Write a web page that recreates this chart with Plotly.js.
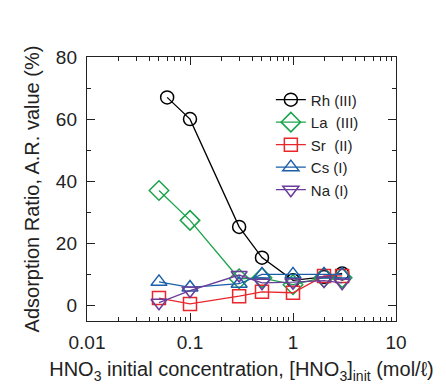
<!DOCTYPE html>
<html><head><meta charset="utf-8">
<script src="https://cdn.plot.ly/plotly-3.0.1.min.js"></script>
<style>html,body{margin:0;padding:0;background:#fff}</style>
</head><body>
<div id="chart" style="width:446px;height:392px"></div>
<script>
const names = ["Rh (III)", "La\u00a0 (III)", "Sr\u00a0 (II)", "Cs (I)", "Na (I)"];
const xRh = [0.06, 0.1, 0.3, 0.5, 1, 2, 3];
const yRh = [67, 60, 25.3, 15.4, 8.1, 9.2, 10.3];
const xLa = [0.05, 0.1, 0.3, 0.5, 1, 2, 3];
const yLa = [37, 27.4, 8.6, 8.9, 6.7, 9, 8.9];
const xSr = [0.05, 0.1, 0.3, 0.5, 1, 2, 3];
const ySr = [2.4, 0.5, 3, 4.4, 4.1, 9.5, 9.5];
const xCs = [0.05, 0.1, 0.3, 0.5, 1, 2, 3];
const yCs = [7.6, 5.8, 7, 10, 10, 10, 10];
const xNa = [0.05, 0.1, 0.3, 0.5, 1, 2, 3];
const yNa = [0.9, 4.8, 9.8, 7.3, 7.5, 8, 7.3];
const xTicks = [0.01, 0.1, 1, 10];
const xTickText = ["0.01", "0.1", "1", "10"];
const yTicks = [0, 20, 40, 60, 80];

const colors = ["#000000", "#1aa34a", "#e8262b", "#1a5ea8", "#6a3d9a"];
const symbols = ["circle-open", "diamond-open", "square-open", "triangle-up-open", "triangle-down-open"];
const sizes = [13, 15, 13, 14, 14];
const xs = [xRh, xLa, xSr, xCs, xNa];
const ys = [yRh, yLa, ySr, yCs, yNa];

const traces = names.map((n, i) => ({
  x: xs[i], y: ys[i], name: n, type: "scatter", mode: "lines+markers",
  line: {color: colors[i], width: 1.3},
  marker: {symbol: symbols[i], size: sizes[i], color: colors[i], line: {width: 1.5, color: colors[i]}}
}));

const fam = "Liberation Sans, Arial, sans-serif";
const layout = {
  width: 446, height: 392,
  margin: {l: 87, r: 50, t: 57, b: 71},
  paper_bgcolor: "#fff", plot_bgcolor: "#fff",
  font: {family: fam, size: 19, color: "#222"},
  showlegend: true,
  legend: {x: 0.595, y: 0.9, xanchor: "left", yanchor: "top", bgcolor: "rgba(0,0,0,0)",
           font: {family: fam, size: 15, color: "#222"}, itemwidth: 30},
  xaxis: {
    type: "log", range: [-2, 1], tickvals: xTicks, ticktext: xTickText,
    ticks: "inside", ticklen: 8, tickwidth: 1, tickcolor: "#222",
    showline: true, linecolor: "#222", linewidth: 1.2, mirror: "ticks",
    showgrid: false, zeroline: false, ticklabelstandoff: 4,
    tickfont: {size: 19, family: fam, color: "#222"},
    minor: {ticks: "inside", ticklen: 4, tickwidth: 1, tickcolor: "#222", dtick: "D1", showgrid: false},
    title: {text: "HNO<sub>3</sub> initial concentration, [HNO<sub>3</sub>]<sub>init</sub> (mol/ℓ)", font: {size: 20, family: fam, color: "#222"}, standoff: 10}
  },
  yaxis: {
    range: [-5, 80], tickvals: yTicks,
    ticks: "inside", ticklen: 8, tickwidth: 1, tickcolor: "#222",
    showline: true, linecolor: "#222", linewidth: 1.2, mirror: "ticks",
    showgrid: false, zeroline: false, ticklabelstandoff: 5,
    tickfont: {size: 19, family: fam, color: "#222"},
    minor: {ticks: "inside", ticklen: 4, tickwidth: 1, tickcolor: "#222", dtick: 10, showgrid: false},
    title: {text: "Adsorption Ratio, A.R. value (%)", font: {size: 20, family: fam, color: "#222"}, standoff: 10}
  }
};
Plotly.newPlot("chart", traces, layout, {displayModeBar: false, staticPlot: true});
</script>
</body></html>
